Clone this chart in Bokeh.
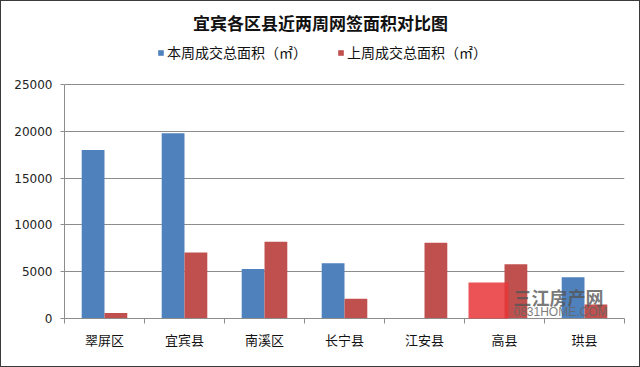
import numpy as np
from bokeh.plotting import figure
from bokeh.models import (ColumnDataSource, Range1d, FixedTicker, Legend, LegendItem,
                          Label, NumeralTickFormatter, BoxAnnotation)
from bokeh.layouts import column
from bokeh.embed import file_html
from bokeh.resources import INLINE
from bokeh.transform import dodge

# ---- data ----
districts = ["翠屏区", "宜宾县", "南溪区", "长宁县", "江安县", "高县", "珙县"]
this_week = [18000, 19800, 5300, 5900, 0, 0, 4400]
last_week = [600, 7050, 8200, 2100, 8100, 5800, 1500]
y_ticks = [0, 5000, 10000, 15000, 20000, 25000]
title_text = "宜宾各区县近两周网签面积对比图"
series_names = ["本周成交总面积（㎡）", "上周成交总面积（㎡）"]

BLUE = "#4F81BD"
RED = "#C0504D"
CJK = "Noto Sans CJK SC"

n = len(districts)
centers = [i + 0.5 for i in range(n)]
src = ColumnDataSource(dict(x=centers, cur=this_week, prev=last_week, name=districts))

# frame spans the whole height above the x axis; the value axis only covers 0..25000
FH, PLOT_H = 317, 234
y_top = y_ticks[-1] * FH / PLOT_H

p = figure(frame_width=560, frame_height=FH, output_backend="svg", toolbar_location=None,
           x_range=Range1d(0, n), y_range=Range1d(0, y_top),
           min_border_left=63, min_border_right=15, min_border_top=0, min_border_bottom=48,
           outline_line_color=None, background_fill_color="white", border_fill_color="white")

bw = 0.285
r1 = p.vbar(x=dodge("x", -0.1425, range=p.x_range), top="cur", width=bw, source=src,
            fill_color=BLUE, line_color=None)
r2 = p.vbar(x=dodge("x", 0.1425, range=p.x_range), top="prev", width=bw, source=src,
            fill_color=RED, line_color=None)

# y axis
p.yaxis.ticker = FixedTicker(ticks=y_ticks)
p.yaxis.bounds = (y_ticks[0], y_ticks[-1])
p.yaxis.formatter = NumeralTickFormatter(format="0")
p.yaxis.axis_line_color = "#8c8c8c"
p.yaxis.major_tick_line_color = "#8c8c8c"
p.yaxis.major_tick_out = 4
p.yaxis.major_tick_in = 0
p.yaxis.minor_tick_line_color = None
p.yaxis.major_label_text_font = "DejaVu Sans"
p.yaxis.major_label_text_font_size = "12px"
p.yaxis.major_label_text_color = "#222222"
p.yaxis.major_label_standoff = 8
p.ygrid.grid_line_color = "#8c8c8c"
p.ygrid.ticker = FixedTicker(ticks=y_ticks)

# x axis: labels at centers, tick marks at category boundaries
p.xaxis.ticker = FixedTicker(ticks=centers, minor_ticks=list(range(n + 1)))
p.xaxis.major_label_overrides = {c: d for c, d in zip(centers, districts)}
p.xaxis.major_tick_line_color = None
p.xaxis.major_tick_out = 0
p.xaxis.major_tick_in = 0
p.xaxis.minor_tick_line_color = "#8c8c8c"
p.xaxis.minor_tick_out = 5
p.xaxis.minor_tick_in = 0
p.xaxis.axis_line_color = "#8c8c8c"
p.xaxis.major_label_text_font = CJK
p.xaxis.major_label_text_font_size = "13px"
p.xaxis.major_label_text_color = "#111111"
p.xaxis.major_label_standoff = 6
p.xgrid.grid_line_color = None

# title
p.add_layout(Label(x=256, y=296, x_units="screen", y_units="screen", text=title_text,
                   text_font=CJK, text_font_size="17px", text_font_style="bold",
                   text_color="#111111", text_align="center", text_baseline="middle"))

# legend
legend = Legend(items=[LegendItem(label=series_names[0], renderers=[r1]),
                       LegendItem(label=series_names[1], renderers=[r2])],
                orientation="horizontal", location=(93, 256),
                glyph_width=7, glyph_height=7, label_text_font=CJK,
                label_text_font_size="14px", label_text_color="#111111",
                spacing=30, padding=0, margin=0, label_standoff=3,
                border_line_color=None, background_fill_alpha=0)
p.add_layout(legend, "center")

# watermark
p.add_layout(BoxAnnotation(left=404, right=444, bottom=-10, top=36,
                           left_units="screen", right_units="screen",
                           bottom_units="screen", top_units="screen",
                           fill_color="#e8353a", fill_alpha=0.85, line_color=None))
p.add_layout(Label(x=449, y=22, x_units="screen", y_units="screen", text="三江房产网",
                   text_font=CJK, text_font_size="18px", text_font_style="bold",
                   text_color="#555555", text_alpha=0.8, text_baseline="middle"))
p.add_layout(Label(x=449, y=0, x_units="screen", y_units="screen", text="0831HOME.COM",
                   text_font="Liberation Sans", text_font_size="12px",
                   text_color="#666666", text_alpha=0.85, text_baseline="bottom"))

layout = column(p, styles={"border": "1px solid #3a3a3a"})
open("out.html", "w").write(file_html(layout, INLINE))
